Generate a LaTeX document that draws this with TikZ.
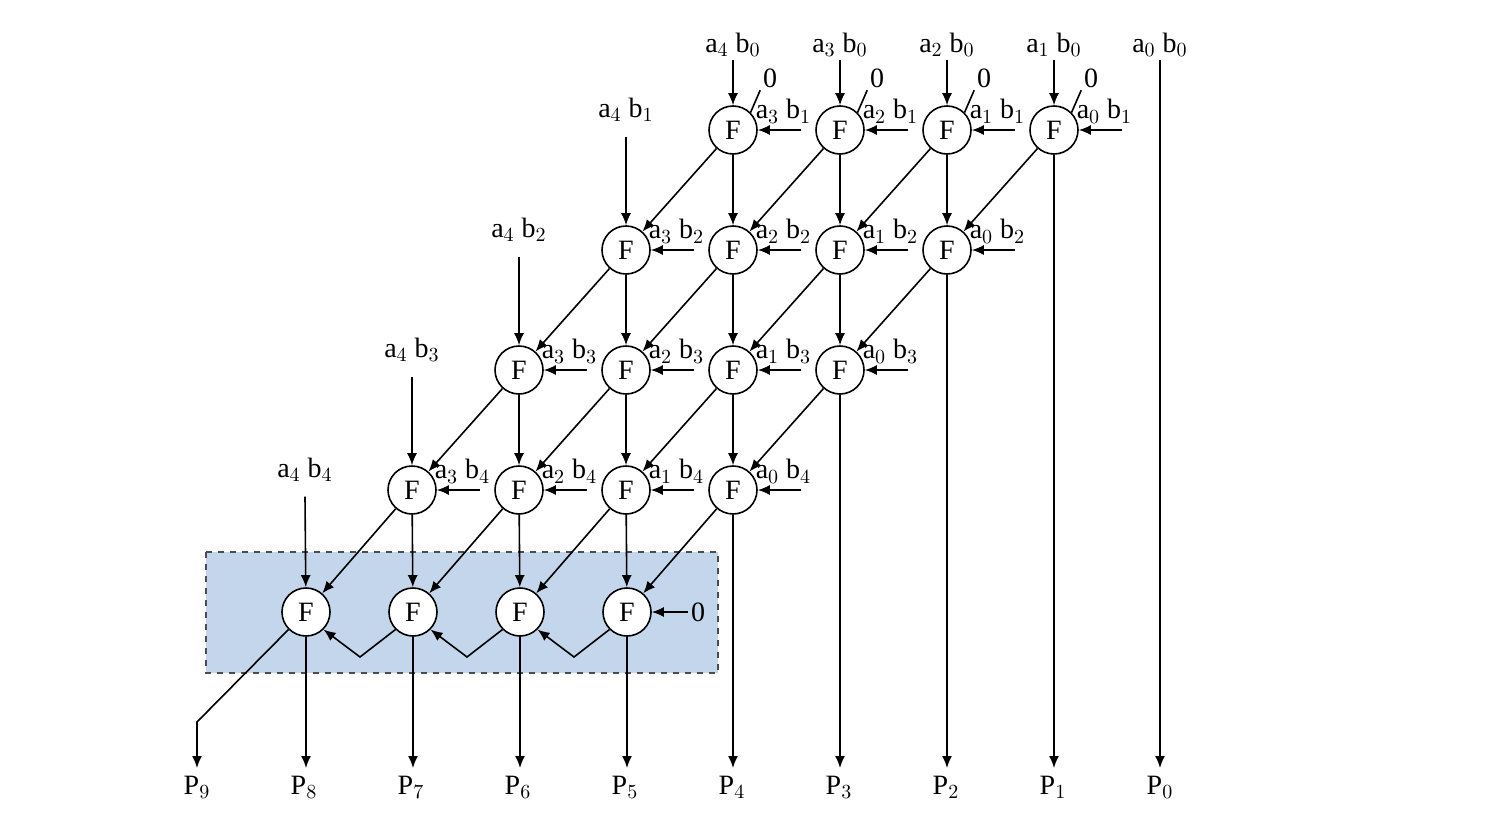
\documentclass[tikz,border=0pt]{standalone}
\usepackage{fontspec}
\setmainfont{Liberation Serif}
\usetikzlibrary{arrows.meta,calc}

\begin{document}
\begin{tikzpicture}[x=0.5pt, y=-0.5pt, line width=0.8pt, >={Latex[length=6pt,width=5pt]},
	fa/.style={circle, draw, fill=white, minimum size=24pt, inner sep=0pt, font=\fontsize{14}{16}\selectfont},
	lbl/.style={font=\fontsize{14}{16}\selectfont, inner sep=1pt}]
	\useasboundingbox (0,0) rectangle (1511,814);

	% carry-save box
	\draw[dashed, fill={rgb,255:red,196;green,214;blue,236}, draw=black!70] (206,552) rectangle (718,673);

	% adder cells
	\foreach \r in {0,...,3} {
		\foreach \j in {0,...,3} {
			\node[fa] (F-\r-\j) at ({733-107*\r+107*\j},{130+120*\r}) {F};
		}
	}
	\foreach \j in {0,...,3} {
		\node[fa] (F-4-\j) at ({306+107*\j},612) {F};
	}

	% outputs
	\foreach \k in {0,...,9} {
		\node[lbl] (p\k) at ({1160-107*\k},787) {P$_{\k}$};
		\coordinate (q\k) at ({1160-107*\k},768);
	}

	% top row inputs
	\foreach \j/\i in {0/4,1/3,2/2,3/1} {
		\node[lbl] (t\j) at ({733+107*\j},45) {a$_{\i}$ b$_0$};
		\draw[->] (t\j.south) -- (F-0-\j);
		\node[lbl] (z\j) at ({733+107*\j+37},78) {0};
		\draw (F-0-\j.45) -- (z\j.south west);
	}
	\node[lbl] (t4) at (1160,45) {a$_0$ b$_0$};
	\draw[->] (t4.south) -- (q0);

	% a4 inputs on the left
	\foreach \r in {1,...,4} {
		\node[lbl] (s\r) at ({733-107*\r},{110+120*(\r-1)}) {a$_4$ b$_{\r}$};
		\draw[->] ($(s\r.south)+(0,12)$) -- (F-\r-0);
	}

	% right-hand partial products
	\foreach \r in {0,...,3} {
		\pgfmathtruncatemacro{\b}{\r+1}
		\foreach \j in {0,...,3} {
			\pgfmathtruncatemacro{\i}{3-\j}
			\coordinate (e-\r-\j) at ($(F-\r-\j)+(68,0)$);
			\draw[->] (e-\r-\j) -- (F-\r-\j);
			\node[lbl, anchor=south west] at ($(F-\r-\j)+(20,-4)$) {a$_{\i}$ b$_{\b}$};
		}
	}

	% sums and carries between rows
	\foreach \r in {0,...,3} {
		\pgfmathtruncatemacro{\n}{\r+1}
		\foreach \j in {0,...,3} {
			\draw[->] (F-\r-\j) -- (F-\n-\j);
		}
		\foreach \j in {0,...,2} {
			\pgfmathtruncatemacro{\m}{\j+1}
			\draw[->] (F-\r-\j) -- (F-\n-\m);
		}
		\pgfmathtruncatemacro{\k}{\r+1}
		\draw[->] (F-\r-3) -- (F-\r-3 |- q\k);
	}

	% ripple row
	\foreach \j in {0,...,3} {
		\pgfmathtruncatemacro{\k}{8-\j}
		\draw[->] (F-4-\j) -- (F-4-\j |- q\k);
	}
	\foreach \j in {1,...,3} {
		\pgfmathtruncatemacro{\m}{\j-1}
		\draw[->] (F-4-\j.225) -- ($(F-4-\j)+(-53,45)$) -- (F-4-\m.-45);
	}
	\node[lbl] (c0) at (698,612) {0};
	\draw[->] (c0) -- (F-4-3);
	\draw[->] (F-4-0.225) -- ($(q9)+(0,-46)$) -- (q9);
\end{tikzpicture}
\end{document}
